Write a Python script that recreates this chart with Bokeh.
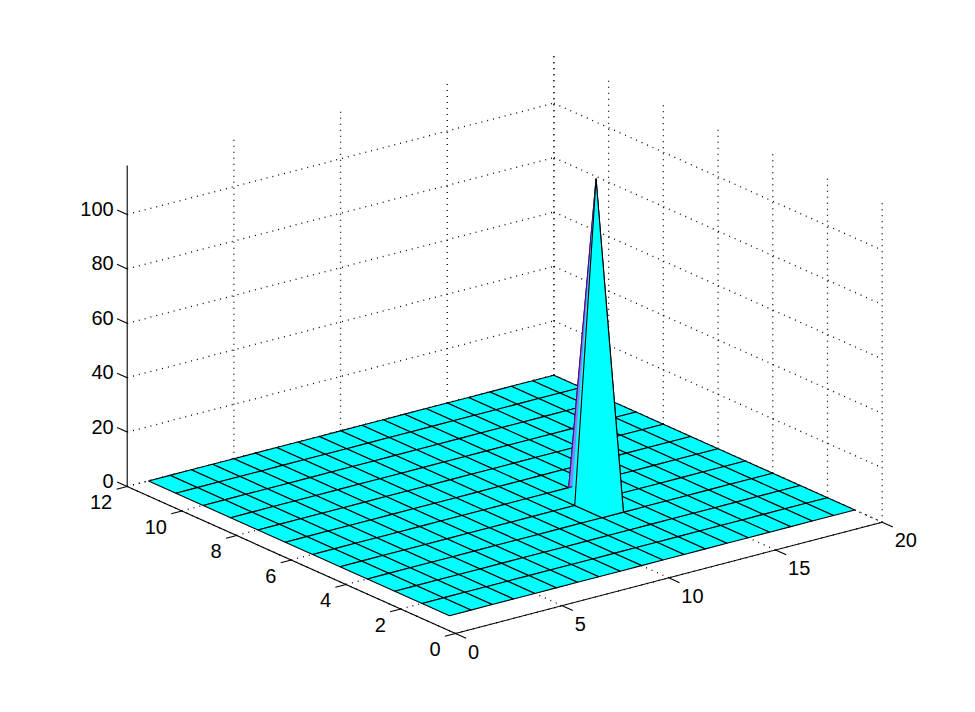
from bokeh.plotting import figure
from bokeh.models import ColumnDataSource, Range1d
from bokeh.core.properties import value
from bokeh.embed import file_html
from bokeh.resources import INLINE

# ---- data -------------------------------------------------------------
x_nodes = [1, 2, 3, 4, 5, 6, 7, 8, 9, 10, 11, 12, 13, 14, 15, 16, 17, 18, 19, 20]
y_nodes = [1, 2, 3, 4, 5, 6, 7, 8, 9, 10, 11, 12]
z_rows = [
    [0, 0, 0, 0, 0, 0, 0, 0, 0, 0, 0, 0, 0, 0, 0, 0, 0, 0, 0, 0],
    [0, 0, 0, 0, 0, 0, 0, 0, 0, 0, 0, 0, 0, 0, 0, 0, 0, 0, 0, 0],
    [0, 0, 0, 0, 0, 0, 0, 0, 0, 0, 0, 0, 0, 0, 0, 0, 0, 0, 0, 0],
    [0, 0, 0, 0, 0, 0, 0, 0, 0, 0, 0, 0, 0, 0, 0, 0, 0, 0, 0, 0],
    [0, 0, 0, 0, 0, 0, 0, 0, 0, 0, 0, 0, 118, 0, 0, 0, 0, 0, 0, 0],
    [0, 0, 0, 0, 0, 0, 0, 0, 0, 0, 0, 0, 0, 0, 0, 0, 0, 0, 0, 0],
    [0, 0, 0, 0, 0, 0, 0, 0, 0, 0, 0, 0, 0, 0, 0, 0, 0, 0, 0, 0],
    [0, 0, 0, 0, 0, 0, 0, 0, 0, 0, 0, 0, 0, 0, 0, 0, 0, 0, 0, 0],
    [0, 0, 0, 0, 0, 0, 0, 0, 0, 0, 0, 0, 0, 0, 0, 0, 0, 0, 0, 0],
    [0, 0, 0, 0, 0, 0, 0, 0, 0, 0, 0, 0, 0, 0, 0, 0, 0, 0, 0, 0],
    [0, 0, 0, 0, 0, 0, 0, 0, 0, 0, 0, 0, 0, 0, 0, 0, 0, 0, 0, 0],
    [0, 0, 0, 0, 0, 0, 0, 0, 0, 0, 0, 0, 0, 0, 0, 0, 0, 0, 0, 0],
]
x_ticks = [0, 5, 10, 15, 20]
y_ticks = [0, 2, 4, 6, 8, 10, 12]
z_ticks = [0, 20, 40, 60, 80, 100]
x_lim = (0, 20)
y_lim = (0, 12)
z_lim = (0, 118)

FONT = value("Liberation Sans")
FS = "20px"
CYAN = "#00FFFF"
PERI = "#8080FF"
PURPLE = "#5A0A8C"

# ---- axonometric projection to page pixels ------------------------------
O = (455.0, 633.0)
UX = (426.7 / 20, -111.3 / 20)
UY = (-328.3 / 12, -147.0 / 12)
UZ = -2.72


def proj(x, y, z=0):
    return (O[0] + x * UX[0] + y * UY[0], O[1] + x * UX[1] + y * UY[1] + z * UZ)


W, H = 959, 696
p = figure(width=W, height=H, output_backend="svg", toolbar_location=None,
           x_range=Range1d(0, W), y_range=Range1d(H, 0),
           min_border=0, outline_line_color=None,
           background_fill_color="white", border_fill_color="white")
p.axis.visible = False
p.grid.visible = False


def seg_source(segs):
    xs, ys = [], []
    for a, b in segs:
        pa, pb = proj(*a), proj(*b)
        xs.append([pa[0], pb[0]])
        ys.append([pa[1], pb[1]])
    return dict(xs=xs, ys=ys)


# ---- dotted grids: floor and both back walls ----------------------------
zt = z_lim[1]
grid = []
for t in x_ticks:
    grid.append(((t, 0, 0), (t, 12, 0)))
    if t > 0:
        grid.append(((t, 12, 0), (t, 12, zt)))
for t in y_ticks:
    grid.append(((0, t, 0), (20, t, 0)))
    grid.append(((20, t, 0), (20, t, zt)))
for t in z_ticks:
    grid.append(((0, 12, t), (20, 12, t)))
    grid.append(((20, 12, t), (20, 0, t)))
p.multi_line("xs", "ys", source=ColumnDataSource(seg_source(grid)),
             line_color="black", line_width=1.3, line_dash="1 5")

# ---- solid axes and tick marks ------------------------------------------
solid = [((0, 12, 0), (0, 12, zt)), ((0, 12, 0), (0, 0, 0)), ((0, 0, 0), (20, 0, 0))]
for t in z_ticks:
    solid.append(((0, 12, t), (0, 12.37, t)))
for t in y_ticks:
    solid.append(((0, t, 0), (-0.5, t, 0)))
for t in x_ticks:
    solid.append(((t, 0, 0), (t, -0.39, 0)))
p.multi_line("xs", "ys", source=ColumnDataSource(seg_source(solid)),
             line_color="black", line_width=1.1)

# ---- surface: flat cells first, then the faces touching the peak ---------
flat, spike = [], []
nx, ny = len(x_nodes), len(y_nodes)
for j in range(ny - 2, -1, -1):
    for i in range(nx - 2, -1, -1):
        corners = [(i, j), (i + 1, j), (i + 1, j + 1), (i, j + 1)]
        pts = [proj(x_nodes[a], y_nodes[b], z_rows[b][a]) for a, b in corners]
        heights = [z_rows[b][a] for a, b in corners]
        cell = dict(xs=[q[0] for q in pts], ys=[q[1] for q in pts],
                    first=heights[0], order=heights, i=i, j=j)
        (spike if max(heights) > 0 else flat).append(cell)

p.patches("xs", "ys",
          source=ColumnDataSource(dict(xs=[c["xs"] for c in flat], ys=[c["ys"] for c in flat])),
          fill_color=CYAN, line_color="black", line_width=1.1, line_join="round")


# paint order: side faces, the shaded face (coloured by its peak corner), front face
def rank(c):
    h = c["order"]
    if h[1] > 0:  # peak at corner (i+1, j)
        return 1
    if h[3] > 0:  # peak at corner (i, j+1)
        return 0
    if h[0] > 0:  # peak at first corner: shaded
        return 2
    return 3  # peak at far corner: front face


for c in sorted(spike, key=rank):
    shaded = c["first"] > 0
    if rank(c) == 3:
        # the inner half of the sliver beside the front face stays cyan
        i0, j0 = c["i"], c["j"]
        px, py = x_nodes[i0 + 1], y_nodes[j0 + 1]
        tip = proj(px, py, z_rows[j0 + 1][i0 + 1])
        a = proj(px, py + 1)
        b = proj(px - 1, py)
        mid = ((a[0] + b[0]) / 2, (a[1] + b[1]) / 2)
        p.patch([tip[0], mid[0], b[0]], [tip[1], mid[1], b[1]],
                fill_color=CYAN, line_color=None)
    p.patch(c["xs"] + c["xs"][:1], c["ys"] + c["ys"][:1],
            fill_color=PERI if shaded else CYAN,
            line_color=PURPLE if shaded else "black", line_width=1.1, line_join="round")

# ---- tick labels ----------------------------------------------------------
xl = [proj(t, 0, 0) for t in x_ticks]
p.text([q[0] + 12.5 for q in xl], [q[1] + 18 for q in xl], text=[str(t) for t in x_ticks],
       text_font=FONT, text_font_size=FS, text_color="black",
       text_align="left", text_baseline="middle")
yl = [proj(0, t, 0) for t in y_ticks]
p.text([q[0] - 15 for q in yl], [q[1] + 15.5 for q in yl], text=[str(t) for t in y_ticks],
       text_font=FONT, text_font_size=FS, text_color="black",
       text_align="right", text_baseline="middle")
zl = [proj(0, 12, t) for t in z_ticks]
p.text([q[0] - 13.5 for q in zl], [q[1] - 5.5 for q in zl], text=[str(t) for t in z_ticks],
       text_font=FONT, text_font_size=FS, text_color="black",
       text_align="right", text_baseline="middle")

open("out.html", "w").write(file_html(p, INLINE))
